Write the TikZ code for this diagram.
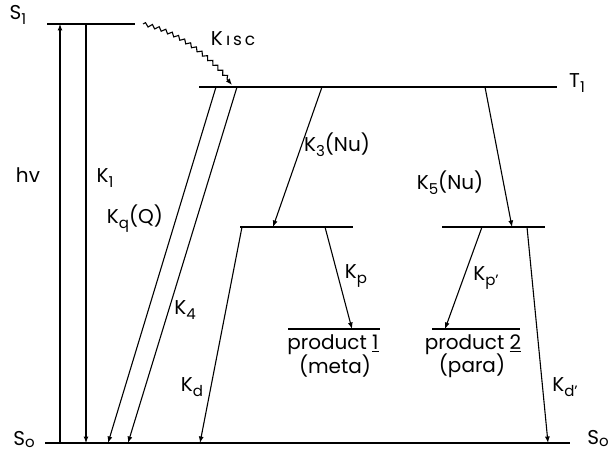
\documentclass[tikz,border=0pt]{standalone}
\usepackage{fontspec}
\setmainfont{Poppins}
\usetikzlibrary{arrows.meta,decorations.pathmorphing}
\newcommand\lo[1]{\raisebox{-5pt}{\fontsize{15}{15}\selectfont #1}}
\newcommand\lso[1]{\raisebox{-2pt}{\fontsize{15}{15}\selectfont #1}}
\begin{document}
\begin{tikzpicture}[x=1pt,y=-1pt,
  level/.style={line width=1.8pt},
  trans/.style={line width=1.1pt,-{Latex[length=6.5pt,width=5pt]}},
  lbl/.style={font=\fontsize{20}{22}\selectfont,inner sep=0pt}]
\useasboundingbox (0,0) rectangle (613,452);
% levels
\coordinate (s1a) at (47,24);  \coordinate (s1b) at (135,24);
\coordinate (t1a) at (199,87); \coordinate (t1b) at (557,87);
\coordinate (m1a) at (240,227); \coordinate (m1b) at (353,227);
\coordinate (m2a) at (442,227); \coordinate (m2b) at (545,227);
\coordinate (p1a) at (288,329); \coordinate (p1b) at (380,329);
\coordinate (p2a) at (432,329); \coordinate (p2b) at (520,329);
\coordinate (s0a) at (45,443); \coordinate (s0b) at (570,443);
\draw[level] (s1a) -- (s1b);
\draw[level] (t1a) -- (t1b);
\draw[level] (m1a) -- (m1b);
\draw[level] (m2a) -- (m2b);
\draw[level] (p1a) -- (p1b);
\draw[level] (p2a) -- (p2b);
\draw[level] (s0a) -- (s0b);
% transition end points
\coordinate (hvb) at (60,443); \coordinate (hvt) at (60,24);
\coordinate (k1t) at (86,24); \coordinate (k1b) at (86,443);
\coordinate (kqt) at (216,87); \coordinate (kqb) at (108,443);
\coordinate (k4t) at (237,87); \coordinate (k4b) at (128,443);
\coordinate (k3t) at (322,87); \coordinate (k3b) at (273,227);
\coordinate (k5t) at (485,87); \coordinate (k5b) at (512,227);
\coordinate (kdt) at (242,227); \coordinate (kdb) at (200,443);
\coordinate (kpt) at (325,227); \coordinate (kpb) at (352,329);
\coordinate (kp2t) at (482,227); \coordinate (kp2b) at (445,329);
\coordinate (kd2t) at (527,227); \coordinate (kd2b) at (548,443);
\coordinate (iscs) at (143,24); \coordinate (isce) at (232,85);
\draw[trans] (hvb) -- (hvt);
\draw[trans] (k1t) -- (k1b);
\draw[trans] (kqt) -- (kqb);
\draw[trans] (k4t) -- (k4b);
\draw[trans] (k3t) -- (k3b);
\draw[trans] (k5t) -- (k5b);
\draw[trans] (kdt) -- (kdb);
\draw[trans] (kpt) -- (kpb);
\draw[trans] (kp2t) -- (kp2b);
\draw[trans] (kd2t) -- (kd2b);
\draw[line width=1.1pt,-{Latex[length=6.5pt,width=5pt]},
  decorate,decoration={snake,amplitude=1.8pt,segment length=7pt,post length=5pt}]
  (iscs) .. controls (180,32) and (212,60) .. (isce);
% labels
\node[lbl] (lS1) at (18,15) {S\lo{1}};
\node[lbl] (lT1) at (577,83) {T\lo{1}};
\node[lbl] (lS0a) at (24,440) {S\lso{o}};
\node[lbl] (lS0b) at (598,439) {S\lso{o}};
\node[lbl] (lhv) at (28,175) {hv};
\node[lbl] (lk1) at (105,178) {K\lo{1}};
\node[lbl] (lisc) at (233,39) {K\,{\fontsize{17}{17}\selectfont ı\,s\,c}};
\node[lbl] (lkq) at (135,219) {K\lo{q}(Q)};
\node[lbl] (lk4) at (185,310) {K\lo{4}};
\node[lbl] (lk3) at (337,145) {K\lo{3}(Nu)};
\node[lbl] (lk5) at (450,183) {K\lo{5}(Nu)};
\node[lbl] (lkd) at (192,387) {K\lo{d}};
\node[lbl] (lkp) at (356,276) {K\lo{p}};
\node[lbl] (lkp2) at (486,278) {K\lo{p'}};
\node[lbl] (lkd2) at (565,387) {K\lo{d'}};
\node[lbl] (lp1) at (333,345) {product \underline{1}};
\node[lbl] (lm) at (335,366) {(meta)};
\node[lbl] (lp2) at (473,345) {product \underline{2}};
\node[lbl] (lpa) at (472,366) {(para)};
\end{tikzpicture}
\end{document}
